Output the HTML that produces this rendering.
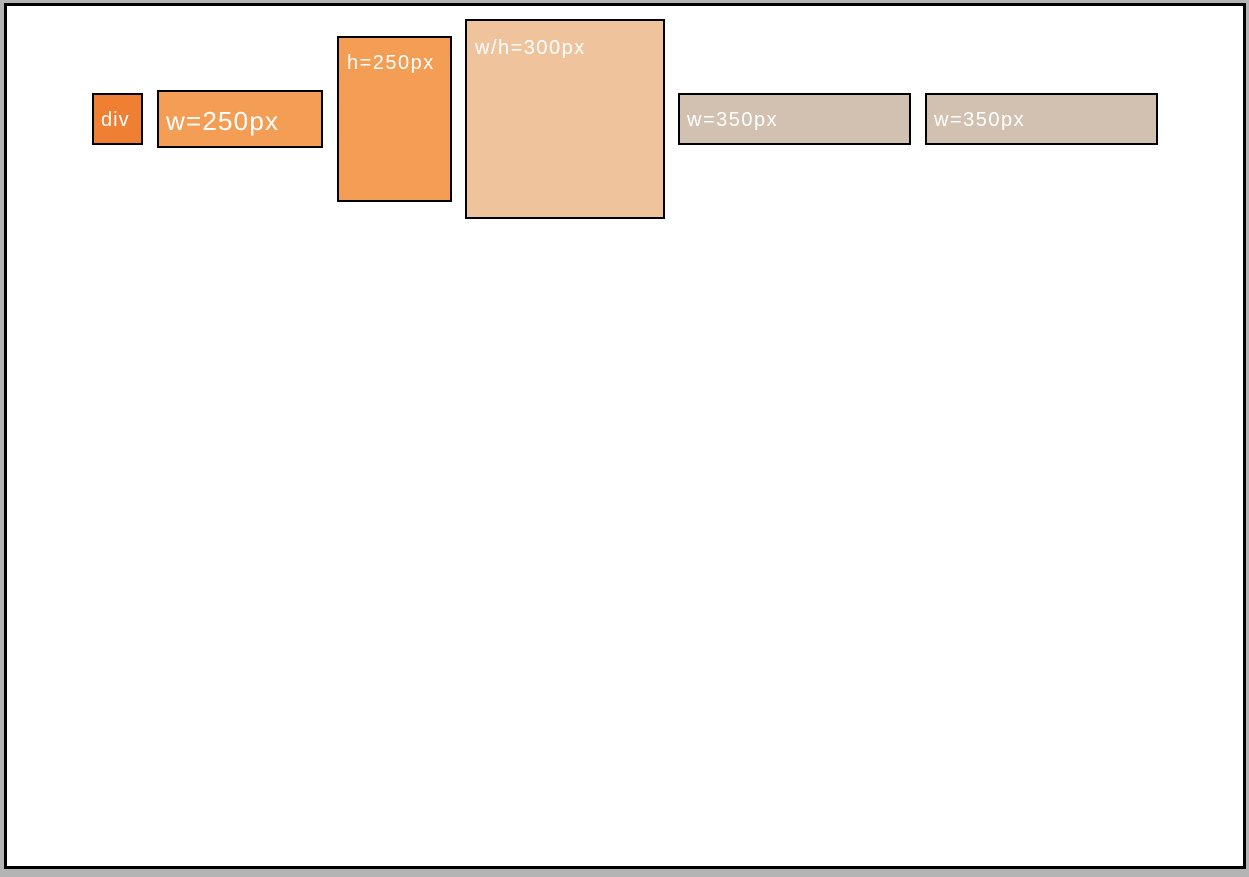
<!DOCTYPE html>
<html><head><meta charset="utf-8"><style>
html,body{margin:0;padding:0;width:1249px;height:877px;background:#b4b4b4;overflow:hidden;font-family:"Liberation Sans","DejaVu Sans",sans-serif;}
.b{position:absolute;box-sizing:border-box;border:2.5px solid #000;color:#fff;white-space:nowrap;font-size:20px;letter-spacing:1.5px;}
</style></head><body>
<div class="b" style="left:4px;top:3px;width:1242px;height:866px;background:#fff;border-width:3px;"></div>
<div class="b" style="left:92px;top:93px;width:51px;height:52px;background:#ef7f33;letter-spacing:1px;"><span style="position:absolute;left:7px;top:14px;">div</span></div>
<div class="b" style="left:157px;top:90px;width:166px;height:58px;background:#f39d55;font-size:26px;letter-spacing:1.2px;"><span style="position:absolute;left:7px;top:14px;">w=250px</span></div>
<div class="b" style="left:337px;top:36px;width:115px;height:166px;background:#f39d55;"><span style="position:absolute;left:8px;top:14px;">h=250px</span></div>
<div class="b" style="left:465px;top:19px;width:200px;height:200px;background:#efc39c;"><span style="position:absolute;left:8px;top:16px;">w/h=300px</span></div>
<div class="b" style="left:678px;top:93px;width:233px;height:52px;background:#d2c1b0;"><span style="position:absolute;left:7px;top:14px;">w=350px</span></div>
<div class="b" style="left:925px;top:93px;width:233px;height:52px;background:#d2c1b0;"><span style="position:absolute;left:7px;top:14px;">w=350px</span></div>
</body></html>
